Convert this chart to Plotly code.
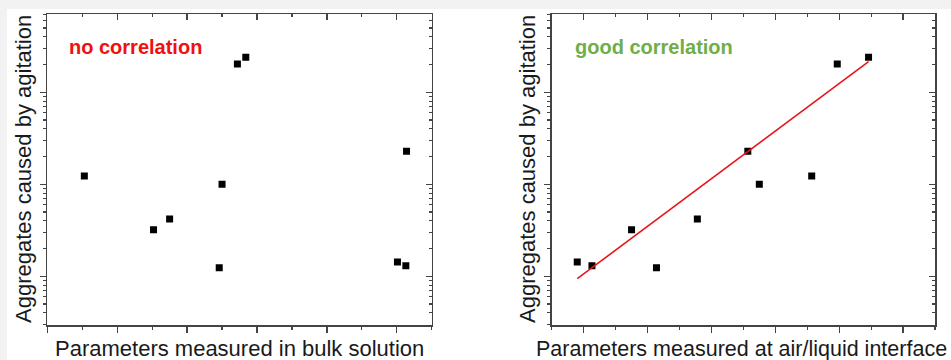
import plotly.graph_objects as go

# ---------------- data ----------------
# y values: aggregates caused by agitation (log scale, arbitrary units)
bulk_x = [0.53, 1.52, 1.75, 2.46, 2.50, 2.72, 2.84, 5.01, 5.13, 5.14]
bulk_y = [12.3, 3.21, 4.2, 1.24, 10.0, 203, 240, 1.43, 1.30, 22.8]

iface_x = [0.90, 1.13, 1.75, 2.14, 2.78, 3.57, 3.75, 4.57, 4.97, 5.46]
iface_y = [1.43, 1.30, 3.21, 1.24, 4.2, 22.8, 10.0, 12.3, 203, 240]

fit_x = [0.90, 5.46]
fit_y = [0.94, 215]

left_title = "Parameters measured in bulk solution"
right_title = "Parameters measured at air/liquid interface"
y_title = "Aggregates caused by agitation"
left_label = "no correlation"
right_label = "good correlation"

# ---------------- layout constants ----------------
W, H = 951, 360
def px_x(p):
    return p / W
def px_y(p):
    return 1 - p / H

AX = "#444444"
FONT = "Arial, Liberation Sans, sans-serif"
ydom = [px_y(325), px_y(14)]
xdom1 = [px_x(47.3), px_x(431.7)]
xdom2 = [px_x(551.7), px_x(935)]
yrange = [-0.53, 2.85]
xr1 = [0, 5.5]
xr2 = [0.5, 6.5]

fig = go.Figure()

marker = dict(symbol="square", size=7, color="black")
fig.add_trace(go.Scatter(x=bulk_x, y=bulk_y, mode="markers", marker=marker,
                         xaxis="x", yaxis="y", showlegend=False))
fig.add_trace(go.Scatter(x=iface_x, y=iface_y, mode="markers", marker=marker,
                         xaxis="x2", yaxis="y2", showlegend=False))
fig.add_trace(go.Scatter(x=fit_x, y=fit_y, mode="lines",
                         line=dict(color="#e8151b", width=1.6),
                         xaxis="x2", yaxis="y2", showlegend=False))
# empty traces so the mirror (top/right) axes are drawn
fig.add_trace(go.Scatter(x=[], y=[], xaxis="x3", yaxis="y3", showlegend=False))
fig.add_trace(go.Scatter(x=[], y=[], xaxis="x4", yaxis="y4", showlegend=False))

def xax(dom, rng, anchor, side, ticks, overlay=None):
    d = dict(domain=dom, range=rng, anchor=anchor, side=side,
             showgrid=False, zeroline=False, showticklabels=False,
             showline=True, linecolor=AX, linewidth=1.5,
             ticks=ticks, tickcolor=AX, ticklen=6, tickwidth=1.3,
             tick0=0, dtick=1,
             minor=dict(ticks=ticks, ticklen=3, tickcolor=AX, tickwidth=1.2,
                        dtick=0.5, tick0=0, showgrid=False),
             fixedrange=True)
    if overlay:
        d["overlaying"] = overlay
    return d

def yax(anchor, side, ticks, overlay=None):
    d = dict(domain=ydom, type="log", range=yrange, anchor=anchor, side=side,
             showgrid=False, zeroline=False, showticklabels=False,
             showline=True, linecolor=AX, linewidth=1.5,
             ticks=ticks, tickcolor=AX, ticklen=6, tickwidth=1.3,
             tick0=0, dtick=1,
             minor=dict(ticks=ticks, ticklen=3, tickcolor=AX, tickwidth=1.2,
                        dtick="D1", showgrid=False),
             fixedrange=True)
    if overlay:
        d["overlaying"] = overlay
    return d

fig.update_layout(
    width=W, height=H,
    margin=dict(l=0, r=0, t=0, b=0),
    paper_bgcolor="#f2f2f2",
    plot_bgcolor="rgba(0,0,0,0)",
    xaxis=xax(xdom1, xr1, "y", "bottom", "outside"),
    yaxis=yax("x", "left", "outside"),
    xaxis2=xax(xdom2, xr2, "y2", "bottom", "outside"),
    yaxis2=yax("x2", "left", "outside"),
    xaxis3=xax(xdom1, xr1, "y3", "top", "inside", overlay="x"),
    yaxis3=yax("x3", "right", "inside", overlay="y"),
    xaxis4=xax(xdom2, xr2, "y4", "top", "inside", overlay="x2"),
    yaxis4=yax("x4", "right", "inside", overlay="y2"),
    shapes=[dict(type="rect", xref="paper", yref="paper",
                 x0=px_x(7), x1=1.01, y0=-0.01, y1=px_y(9),
                 fillcolor="white", line=dict(width=0), layer="below")],
    annotations=[
        dict(text=f"<b>{left_label}</b>", x=px_x(66.5), y=px_y(47.5),
             xref="paper", yref="paper", xanchor="left", yanchor="middle",
             showarrow=False, font=dict(family=FONT, size=20, color="#f01010")),
        dict(text=f"<b>{right_label}</b>", x=px_x(573), y=px_y(47),
             xref="paper", yref="paper", xanchor="left", yanchor="middle",
             showarrow=False, font=dict(family=FONT, size=20, color="#6fae48")),
        dict(text=y_title, x=px_x(23), y=px_y(169), textangle=-90,
             xref="paper", yref="paper", xanchor="center", yanchor="middle",
             showarrow=False, font=dict(family=FONT, size=22, color="#1a1a1a")),
        dict(text=y_title, x=px_x(527), y=px_y(169), textangle=-90,
             xref="paper", yref="paper", xanchor="center", yanchor="middle",
             showarrow=False, font=dict(family=FONT, size=22, color="#1a1a1a")),
        dict(text=left_title, x=px_x(239.5), y=px_y(348.5),
             xref="paper", yref="paper", xanchor="center", yanchor="middle",
             showarrow=False, font=dict(family=FONT, size=22, color="#1a1a1a")),
        dict(text=right_title, x=px_x(949), y=px_y(348.5),
             xref="paper", yref="paper", xanchor="right", yanchor="middle",
             showarrow=False, font=dict(family=FONT, size=21.5, color="#1a1a1a")),
    ],
)

fig.write_html(
    "out.html",
    config={"displayModeBar": False, "staticPlot": True},
    post_script="document.body.style.margin='0';"
                "document.body.style.background='#f2f2f2';"
                "document.body.style.overflow='hidden';",
)
